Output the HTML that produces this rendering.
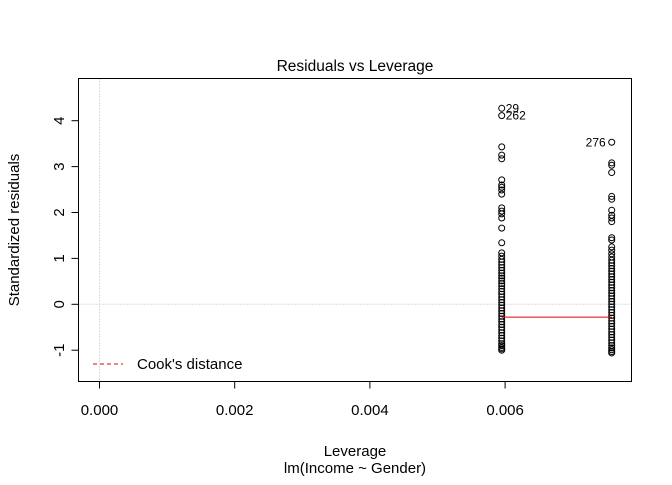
<!DOCTYPE html>
<html><head><meta charset="utf-8"><style>
body{margin:0;background:#fff}
svg text{font-family:"Liberation Sans",Arial,sans-serif;fill:#000}
</style></head><body>
<svg id="chart" width="672" height="480">
<rect width="672" height="480" fill="#fff"/>
<text x="355" y="71" font-size="15.5" text-anchor="middle">Residuals vs Leverage</text>
<text x="355" y="456" font-size="15" text-anchor="middle">Leverage</text>
<text x="355" y="473" font-size="15" text-anchor="middle">lm(Income ~ Gender)</text>
<text transform="translate(19,230) rotate(-90)" font-size="15" text-anchor="middle">Standardized residuals</text>
<g id="axes"></g>
<g id="marks"></g>
<rect x="78.5" y="78.5" width="553" height="303" fill="none" stroke="#000"/>
<g>
<line x1="93" y1="364" x2="123" y2="364" stroke="#e00" stroke-dasharray="4,3"/>
<text x="137" y="369" font-size="15">Cook's distance</text>
</g>
</svg>
<script>
const xTicks=[0,0.002,0.004,0.006];
const xTickLabels=["0.000","0.002","0.004","0.006"];
const yTicks=[-1,0,1,2,3,4];
const lev1=0.00595, lev2=0.007577;
const resid1=[4.27,4.11,3.43,3.25,3.17,2.71,2.6,2.55,2.49,2.4,2.1,2.03,1.97,1.88,1.66,1.34,1.12,1.05,0.98,0.92,0.86,0.8,0.74,0.68,0.62,0.57,0.51,0.45,0.4,0.34,0.28,0.22,0.16,0.1,0.04,-0.02,-0.08,-0.14,-0.2,-0.26,-0.32,-0.38,-0.44,-0.5,-0.56,-0.62,-0.68,-0.74,-0.8,-0.86,-0.9,-0.94,-0.97,-1.0];
const resid2=[3.53,3.08,3.03,2.87,2.35,2.29,2.05,1.94,1.88,1.8,1.45,1.4,1.25,1.18,1.1,1.03,0.96,0.9,0.84,0.78,0.72,0.66,0.6,0.54,0.48,0.42,0.36,0.3,0.24,0.18,0.12,0.06,0,-0.06,-0.12,-0.18,-0.24,-0.3,-0.36,-0.42,-0.48,-0.54,-0.6,-0.66,-0.72,-0.78,-0.84,-0.9,-0.95,-0.99,-1.03,-1.06];
const pointLabels=[["29",lev1,4.27,"right"],["262",lev1,4.11,"right"],["276",lev2,3.53,"left"]];
const smoothX=[lev1,lev2], smoothY=[-0.28,-0.28];
const X=v=>99.5+v*67600, Y=v=>304.3-45.9*v;
const NS="http://www.w3.org/2000/svg";
const ax=document.getElementById('axes'), mk=document.getElementById('marks');
function el(t,a,p){const e=document.createElementNS(NS,t);for(const k in a)e.setAttribute(k,a[k]);p.appendChild(e);return e;}
let g=el('line',{x1:X(0),x2:X(0),y1:78.5,y2:381.5,stroke:'#bbb','stroke-dasharray':'1,2'},ax);


g=el('line',{x1:78.5,x2:631.5,y1:Y(0),y2:Y(0),stroke:'#bbb','stroke-dasharray':'1,2'},ax);


xTicks.forEach((v,i)=>{
 const l=el('line',{x1:X(v),x2:X(v),y1:381.5,y2:388.5,stroke:'#000'},ax);
 
 
 const t=el('text',{x:X(v),y:415,'font-size':15,'text-anchor':'middle'},ax);t.textContent=xTickLabels[i];
 
 
});
yTicks.forEach(v=>{
 const l=el('line',{x1:71.5,x2:78.5,y1:Y(v),y2:Y(v),stroke:'#000'},ax);
 
 
 const t=el('text',{transform:`translate(64,${Y(v)}) rotate(-90)`,'font-size':15,'text-anchor':'middle'},ax);t.textContent=String(v);
 
 
});
[[lev1,resid1],[lev2,resid2]].forEach(([lv,arr])=>arr.forEach(r=>{
 const c=el('circle',{cx:X(lv),cy:Y(r),r:3,fill:'none',stroke:'#000','stroke-width':1},mk);
 
 
}));
const sm=el('polyline',{points:smoothX.map((x,i)=>X(x)+','+Y(smoothY[i])).join(' '),stroke:'#d00',fill:'none','stroke-width':1},mk);


pointLabels.forEach(([s,lv,r,side])=>{
 const t=el('text',{x:side==='right'?X(lv)+4:X(lv)-6,y:Y(r)+4,'font-size':12,'text-anchor':side==='right'?'start':'end'},mk);t.textContent=s;
 
 
});
</script>
</body></html>
